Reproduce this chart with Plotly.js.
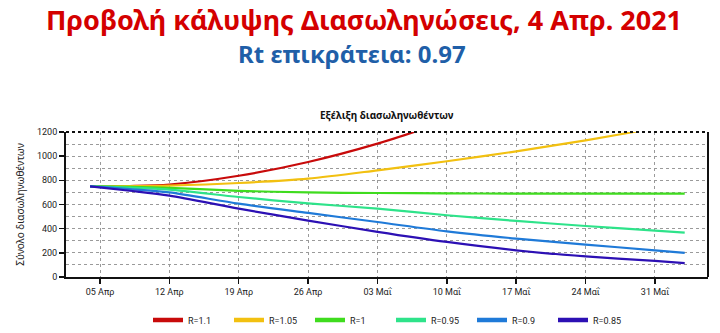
<!DOCTYPE html>
<html>
<head>
<meta charset="utf-8">
<script src="https://cdn.plot.ly/plotly-3.0.1.min.js"></script>
<style>html,body{margin:0;padding:0;background:#fff}#chart{width:720px;height:333px}</style>
</head>
<body>
<div id="chart"></div>
<script>
const dates = ['2021-04-04','2021-04-08','2021-04-12','2021-04-19','2021-04-26','2021-05-03','2021-05-10','2021-05-17','2021-05-24','2021-05-31','2021-06-03'];
const r110 = [750, 753, 765, 838, 952, 1104, 1290, null, null, null, null];
const r105 = [750, 752, 757, 778, 814, 883, 958, 1040, 1131, 1232, 1280];
const r100 = [750, 746, 738, 713, 700, 695, 692, 690, 690, 690, 690];
const r095 = [750, 740, 723, 662, 609, 566, 511, 464, 422, 384, 367];
const r090 = [750, 728, 700, 607, 530, 455, 378, 318, 268, 221, 199];
const r085 = [750, 714, 674, 566, 467, 374, 290, 221, 171, 133, 115];
const seriesNames = ['R=1.1','R=1.05','R=1','R=0.95','R=0.9','R=0.85'];
const seriesData = [r110, r105, r100, r095, r090, r085];
const colors = ['#c80a0a','#f2c010','#3fdc1e','#2ee38a','#1f7ad8','#2c10b4'];
const tickDates = ['2021-04-05','2021-04-12','2021-04-19','2021-04-26','2021-05-03','2021-05-10','2021-05-17','2021-05-24','2021-05-31'];
const tickLabels = ['05 Απρ','12 Απρ','19 Απρ','26 Απρ','03 Μαΐ','10 Μαΐ','17 Μαΐ','24 Μαΐ','31 Μαΐ'];

const traces = [];
seriesData.forEach((ys, i) => {
  traces.push({x: dates, y: ys, type: 'scatter', mode: 'lines', name: seriesNames[i],
    line: {color: colors[i], width: 2.2, shape: 'spline', smoothing: 0.8}, showlegend: false, hoverinfo: 'skip'});
});
seriesData.forEach((ys, i) => {
  traces.push({x: [null], y: [null], type: 'scatter', mode: 'lines', name: seriesNames[i],
    line: {color: colors[i], width: 4.5}, showlegend: true});
});

const tickFont = {family: 'Liberation Sans Narrow, Roboto, sans-serif', size: 9, color: '#222'};
const layout = {
  width: 720, height: 333,
  paper_bgcolor: '#ffffff', plot_bgcolor: '#ffffff',
  margin: {l: 66, r: 12, t: 132, b: 56},
  title: {text: 'Προβολή κάλυψης Διασωληνώσεις, 4 Απρ. 2021', font: {family: 'Noto Sans, sans-serif', size: 27, color: '#d40000', weight: 700},
    x: 364/720, xref: 'container', xanchor: 'center', y: 1 - 21/333, yref: 'container', yanchor: 'middle', pad: {t:0,b:0}},
  annotations: [
    {text: 'Rt επικράτεια: 0.97', xref: 'paper', yref: 'paper', x: (352-66)/642, y: (333-53-56)/145, xanchor: 'center', yanchor: 'middle', showarrow: false,
      font: {family: 'Noto Sans, sans-serif', size: 24, color: '#1f5fa8', weight: 700}},
    {text: '<b>Εξέλιξη διασωληνωθέντων</b>', xref: 'paper', yref: 'paper', x: 0.5, y: (333-115-56)/145, xanchor: 'center', yanchor: 'middle', showarrow: false,
      font: {family: 'Noto Sans, sans-serif', size: 10, color: '#111'}}
  ],
  xaxis: {
    type: 'date', range: ['2021-04-01 13:40', '2021-06-05 08:24'],
    tickmode: 'array', tickvals: tickDates, ticktext: tickLabels,
    tickfont: tickFont, ticks: 'outside', ticklen: 5, tickcolor: '#111', tickwidth: 1.5,
    showgrid: true, gridcolor: '#9a9a9a', griddash: 'dot', gridwidth: 1,
    showline: true, linecolor: '#111', linewidth: 2, zeroline: false, fixedrange: true
  },
  yaxis: {
    range: [0, 1200], dtick: 200, tick0: 0,
    tickfont: tickFont, ticks: 'outside', ticklen: 5, tickcolor: '#111', tickwidth: 1.5,
    showgrid: true, gridcolor: '#9a9a9a', griddash: 'dot', gridwidth: 1,
    minor: {dtick: 100, showgrid: true, gridcolor: '#9a9a9a', griddash: 'dot', gridwidth: 1},
    showline: true, linecolor: '#111', linewidth: 2, zeroline: false,
    title: {text: 'Σύνολο διασωληνωθέντων', font: {family: 'Noto Sans, sans-serif', size: 10, color: '#222'}, standoff: 10},
    fixedrange: true
  },
  shapes: [
    {type: 'line', xref: 'paper', yref: 'paper', x0: 0, x1: 1, y0: 1, y1: 1, line: {color: '#111', width: 2, dash: 'dot'}},
    {type: 'line', xref: 'paper', yref: 'paper', x0: 1, x1: 1, y0: 0, y1: 1, line: {color: '#111', width: 2}}
  ],
  legend: {orientation: 'h', x: 391/720, xref: 'container', xanchor: 'center', y: 1 - 320/333, yref: 'container', yanchor: 'middle',
    font: {family: 'Liberation Sans Narrow, Roboto, sans-serif', size: 9, color: '#222'}, entrywidth: 36, entrywidthmode: 'pixels', bgcolor: 'rgba(0,0,0,0)'},
  showlegend: true
};
Plotly.newPlot('chart', traces, layout, {displayModeBar: false, staticPlot: true});
</script>
</body>
</html>
